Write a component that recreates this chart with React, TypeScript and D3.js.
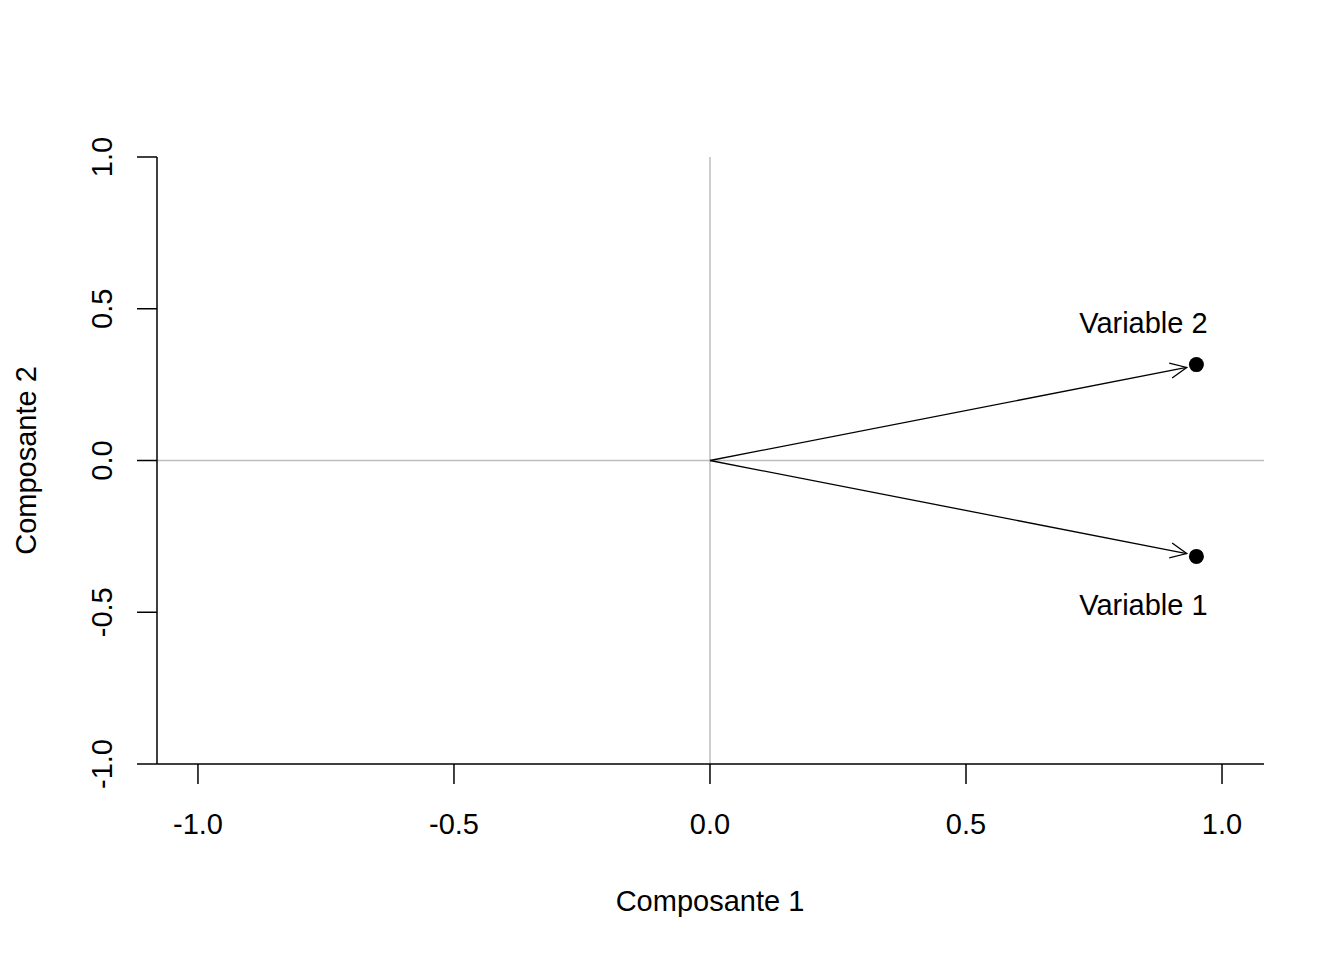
import React from "react";
import * as d3 from "d3";

const variables = ["Variable 1", "Variable 2"];
const comp1 = [0.95, 0.95];
const comp2 = [-0.316, 0.316];
const ticks = [-1, -0.5, 0, 0.5, 1];

const App = () => {
  const width = 1344;
  const height = 960;
  const x = d3.scaleLinear().domain([-1.08, 1.082]).range([157, 1264]);
  const y = d3.scaleLinear().domain([-1, 1]).range([764, 157]);
  const font = "'Liberation Sans', Arial, sans-serif";
  const fs = 29;

  const arrowHead = (x1: number, y1: number, x2: number, y2: number) => {
    const a = Math.atan2(y2 - y1, x2 - x1);
    const len = 18;
    const spread = (25 * Math.PI) / 180;
    const p1 = [x2 - len * Math.cos(a - spread), y2 - len * Math.sin(a - spread)];
    const p2 = [x2 - len * Math.cos(a + spread), y2 - len * Math.sin(a + spread)];
    return `M${p1[0]},${p1[1]}L${x2},${y2}L${p2[0]},${p2[1]}`;
  };

  return (
    <svg
      width={width}
      height={height}
      style={{ position: "absolute", left: 0, top: 0, background: "white" }}
      fontFamily={font}
    >
      <line x1={x(0)} x2={x(0)} y1={y(1)} y2={y(-1)} stroke="#bebebe" strokeWidth={1.5} />
      <line x1={x(-1.08)} x2={x(1.082)} y1={y(0)} y2={y(0)} stroke="#bebebe" strokeWidth={1.5} />

      {/* x axis */}
      <line x1={157} x2={1264} y1={764} y2={764} stroke="black" strokeWidth={1.5} />
      {ticks.map((t) => (
        <g key={"x" + t}>
          <line x1={x(t)} x2={x(t)} y1={764} y2={784} stroke="black" strokeWidth={1.5} />
          <text x={x(t)} y={834} textAnchor="middle" fontSize={fs}>
            {t.toFixed(1)}
          </text>
        </g>
      ))}
      {/* y axis */}
      <line x1={157} x2={157} y1={y(1)} y2={y(-1)} stroke="black" strokeWidth={1.5} />
      {ticks.map((t) => (
        <g key={"y" + t}>
          <line x1={137} x2={157} y1={y(t)} y2={y(t)} stroke="black" strokeWidth={1.5} />
          <text
            transform={`translate(112,${y(t)}) rotate(-90)`}
            textAnchor="middle"
            fontSize={fs}
          >
            {t.toFixed(1)}
          </text>
        </g>
      ))}
      <text x={x(0)} y={911} textAnchor="middle" fontSize={fs}>
        Composante 1
      </text>
      <text transform={`translate(36,${y(0)}) rotate(-90)`} textAnchor="middle" fontSize={fs}>
        Composante 2
      </text>

      {variables.map((v, i) => {
        const ex = x(comp1[i] * 0.98);
        const ey = y(comp2[i] * 0.97);
        const above = comp2[i] > 0;
        return (
          <g key={v}>
            <line x1={x(0)} y1={y(0)} x2={ex} y2={ey} stroke="black" strokeWidth={1.3} />
            <path d={arrowHead(x(0), y(0), ex, ey)} fill="none" stroke="black" strokeWidth={1.3} />
            <circle cx={x(comp1[i])} cy={y(comp2[i])} r={7.5} fill="black" />
            <text
              x={x(comp1[i]) - 53}
              y={y(comp2[i]) + (above ? -32 : 59)}
              textAnchor="middle"
              fontSize={fs}
            >
              {v}
            </text>
          </g>
        );
      })}
    </svg>
  );
};

export default App;
